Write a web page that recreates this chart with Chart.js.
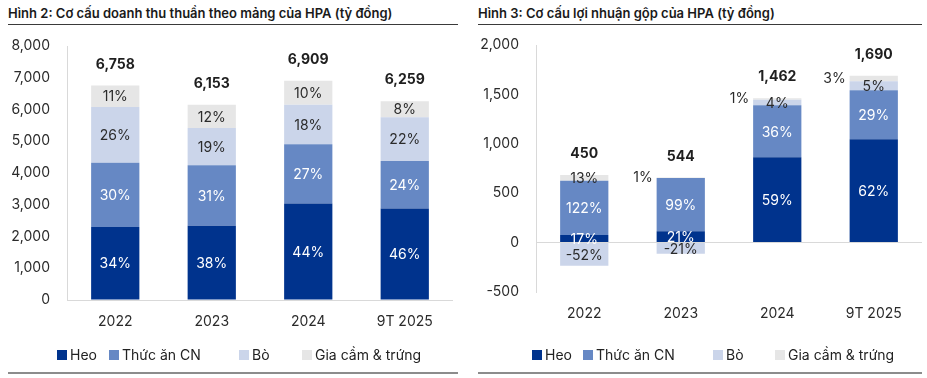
<!DOCTYPE html>
<html><head><meta charset="utf-8">
<script src="https://cdn.jsdelivr.net/npm/chart.js@4.4.1/dist/chart.umd.min.js"></script>
<style>
body{margin:0;width:927px;height:378px;position:relative;background:#fff;font-family:Inter, "Noto Sans", sans-serif;overflow:hidden}
.title{position:absolute;top:4px;font-weight:600;font-size:13px;color:#1a1a1a;white-space:nowrap;line-height:18px}
.rule{position:absolute;top:24px;height:1px;background:#3a3a3a}
.brule{position:absolute;top:372px;height:2px;background:#8c8c8c}
canvas{position:absolute;top:0}
.leg{position:absolute;top:347px;font-size:14px;color:#222;white-space:nowrap;line-height:16px}
.leg i{display:inline-block;width:10px;height:10px;margin-right:3px;vertical-align:0px}
</style></head>
<body>
<div class="title" style="left:8px">Hình 2: Cơ cấu doanh thu thuần theo mảng của HPA (tỷ đồng)</div>
<div class="rule" style="left:8px;width:450px"></div>
<div class="title" style="left:478px">Hình 3: Cơ cấu lợi nhuận gộp của HPA (tỷ đồng)</div>
<div class="rule" style="left:478px;width:444px"></div>
<canvas id="c1" width="463" height="378" style="left:0"></canvas>
<canvas id="c2" width="464" height="378" style="left:463px"></canvas>
<div id="leg1"></div>
<div id="leg2"></div>
<div class="brule" style="left:8px;width:450px"></div>
<div class="brule" style="left:478px;width:444px"></div>
<script>
// ---- Data ----
const categories = ['2022', '2023', '2024', '9T 2025'];
const seriesNames = ['Heo', 'Thức ăn CN', 'Bò', 'Gia cầm & trứng'];
const seriesColors = ['#00338D', '#6688C4', '#CBD5EA', '#E6E6E6'];

// Hình 2: doanh thu thuần (tỷ đồng)
const revHeo = [2298, 2338, 3040, 2879];
const revThucAn = [2027, 1907, 1865, 1502];
const revBo = [1757, 1169, 1244, 1377];
const revGiaCam = [676, 739, 760, 501];
const revTotal = [6758, 6153, 6909, 6259];
const revPctHeo = [34, 38, 44, 46];
const revPctThucAn = [30, 31, 27, 24];
const revPctBo = [26, 19, 18, 22];
const revPctGiaCam = [11, 12, 10, 8];
const revTicks = [0, 1000, 2000, 3000, 4000, 5000, 6000, 7000, 8000];

// Hình 3: lợi nhuận gộp (tỷ đồng)
const gpHeo = [77, 114, 863, 1045];
const gpThucAn = [549, 539, 526, 497];
const gpBo = [-234, -114, 58, 91];
const gpGiaCam = [58, 5, 15, 57];
const gpTotal = [450, 544, 1462, 1690];
const gpPctHeo = [17, 21, 59, 62];
const gpPctThucAn = [122, 99, 36, 29];
const gpPctBo = [-52, -21, 4, 5];
const gpPctGiaCam = [13, 1, 1, 3];
const gpTicks = [-500, 0, 500, 1000, 1500, 2000];
const gpGiaCamOutside = [false, true, true, true];

const FONT = 'Inter, "Noto Sans", sans-serif';
const labelColors = ['#ffffff', '#ffffff', '#2b2b2b', '#2b2b2b'];

const segLabels = {
  id: 'segLabels',
  afterDatasetsDraw(chart, args, opts) {
    const ctx = chart.ctx;
    ctx.save();
    ctx.textBaseline = 'middle';
    ctx.font = '14px ' + FONT;
    chart.data.datasets.forEach((ds, i) => {
      const meta = chart.getDatasetMeta(i);
      meta.data.forEach((bar, j) => {
        const txt = ds.pct[j] + '%';
        const yc = (bar.y + bar.base) / 2;
        if (ds.outside && ds.outside[j]) {
          ctx.fillStyle = '#2b2b2b';
          ctx.textAlign = 'right';
          ctx.fillText(txt, bar.x - bar.width / 2 - 4, yc);
        } else {
          ctx.fillStyle = labelColors[i];
          ctx.textAlign = 'center';
          ctx.fillText(txt, bar.x, yc + 1);
        }
      });
    });
    ctx.font = 'bold 14px ' + FONT;
    ctx.fillStyle = '#1f1f1f';
    ctx.textAlign = 'center';
    opts.totals.forEach((t, j) => {
      let top = Infinity, x = 0;
      chart.data.datasets.forEach((ds, i) => {
        const b = chart.getDatasetMeta(i).data[j];
        top = Math.min(top, b.y, b.base);
        x = b.x;
      });
      ctx.fillText(t.toLocaleString('en-US'), x, top - 21);
    });
    ctx.restore();
  }
};

function makeDatasets(vals, pcts, outside) {
  return vals.map((v, i) => ({
    label: seriesNames[i],
    data: v,
    pct: pcts[i],
    outside: outside[i],
    backgroundColor: seriesColors[i],
    borderWidth: 0,
    categoryPercentage: 1,
    barPercentage: 0.5
  }));
}

function makeChart(id, datasets, totals, ticks, yWidth, padding) {
  return new Chart(document.getElementById(id), {
    type: 'bar',
    data: { labels: categories, datasets },
    plugins: [segLabels],
    options: {
      responsive: false,
      animation: false,
      layout: { padding },
      plugins: { legend: { display: false }, tooltip: { enabled: false }, segLabels: { totals } },
      scales: {
        x: {
          stacked: true,
          grid: { display: false, drawTicks: false },
          border: { display: false },
          ticks: { padding: 13, color: '#2b2b2b', font: { family: FONT, size: 14 } },
          afterFit(s) { s.height = 40; }
        },
        y: {
          stacked: true,
          min: ticks[0], max: ticks[ticks.length - 1],
          afterBuildTicks(s) { s.ticks = ticks.map(v => ({ value: v })); },
          ticks: {
            padding: 17, color: '#2b2b2b', font: { family: FONT, size: 14 },
            callback: v => v.toLocaleString('en-US')
          },
          grid: { drawTicks: false, color: c => (c.tick && c.tick.value === 0) ? '#d9d9d9' : 'rgba(0,0,0,0)', lineWidth: 1 },
          border: { color: '#d9d9d9' },
          afterFit(s) { s.width = yWidth; }
        }
      }
    }
  });
}

makeChart('c1',
  makeDatasets([revHeo, revThucAn, revBo, revGiaCam], [revPctHeo, revPctThucAn, revPctBo, revPctGiaCam], [null, null, null, null]),
  revTotal, revTicks, 67, { top: 46, left: 0, right: 10, bottom: 38 });

makeChart('c2',
  makeDatasets([gpHeo, gpThucAn, gpBo, gpGiaCam], [gpPctHeo, gpPctThucAn, gpPctBo, gpPctGiaCam], [null, null, null, gpGiaCamOutside]),
  gpTotal, gpTicks, 73, { top: 45, left: 0, right: 5, bottom: 46 });

// HTML legends
function legend(id, lefts) {
  const el = document.getElementById(id);
  seriesNames.forEach((n, i) => {
    const d = document.createElement('div');
    d.className = 'leg';
    d.style.left = lefts[i] + 'px';
    d.innerHTML = '<i style="background:' + seriesColors[i] + '"></i>' + n;
    el.appendChild(d);
  });
}
legend('leg1', [57, 109, 239, 302]);
legend('leg2', [532, 583, 713, 775]);
</script>
</body></html>
